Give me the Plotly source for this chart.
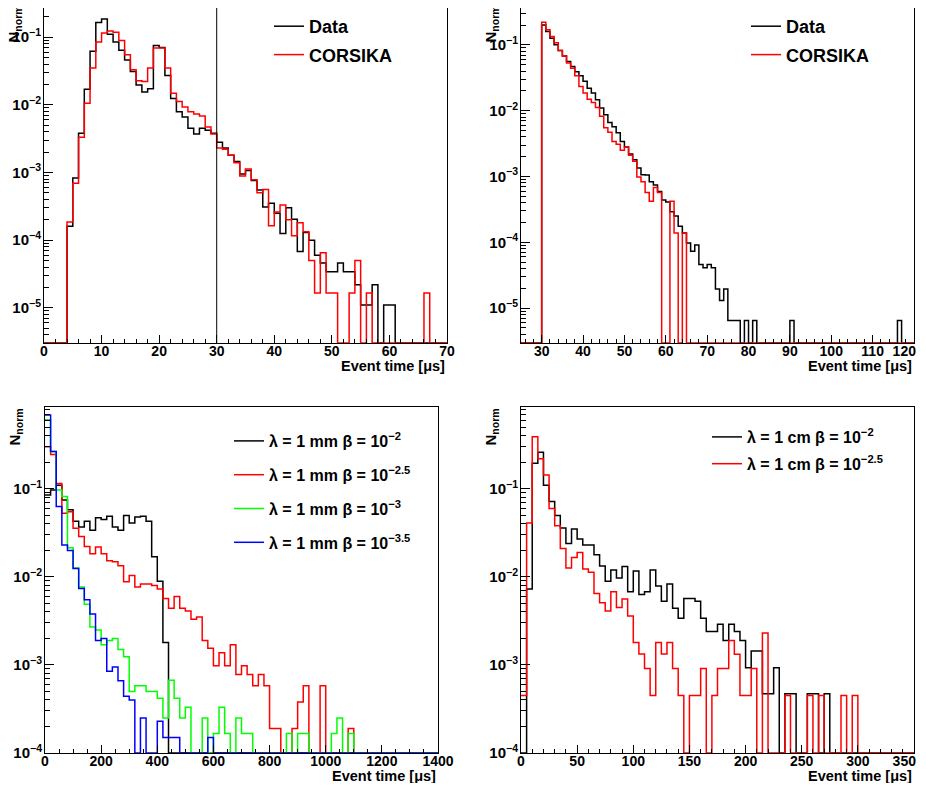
import numpy as np
import plotly.graph_objects as go

FONT = "Liberation Sans, Arial, Helvetica, sans-serif"
PAGE_MARGIN = 8          # the browser puts the figure 8 px in from the page corner
W, H = 926 - 2 * PAGE_MARGIN, 791 - 2 * PAGE_MARGIN

# ---- top left: event time, Data vs CORSIKA (1 us bins from 0) ----
P1_START, P1_WIDTH = 0, 1
P1_DATA = [0, 0, 0, 0, 1.6e-4, 8.3e-4, 3.8e-3, 0.017, 0.062, 0.165,
           0.185, 0.11, 0.085, 0.064, 0.046, 0.031, 0.0196, 0.0154, 0.0172, 0.075,
           0.070, 0.027, 0.0124, 0.0079, 0.0066, 0.0045, 0.0037, 0.0045, 0.0042, 0.0038,
           0.0028, 0.0023, 0.0018, 0.00145, 0.00095, 0.00107, 0.00076, 0.00055, 0.00031, 0.00035,
           0.00025, 0.000125, 0.0003, 0.000204, 6.8e-5, 1.3e-4, 1.0e-4, 6.0e-5, 4.6e-5, 3.4e-5,
           3.4e-5, 4.6e-5, 3.4e-5, 3.4e-5, 2.2e-5, 1.1e-5, 1.1e-5, 2.2e-5, 0, 1.1e-5,
           1.1e-5, 0, 0, 0, 0, 0, 0, 0, 0, 0]
P1_CORSIKA = [0, 0, 0, 0, 1.85e-4, 6.9e-4, 3.3e-3, 0.0105, 0.035, 0.085,
              0.115, 0.123, 0.118, 0.089, 0.055, 0.033, 0.0226, 0.022, 0.035, 0.069,
              0.069, 0.035, 0.0148, 0.0112, 0.0093, 0.0079, 0.0073, 0.0068, 0.0047, 0.0037,
              0.0023, 0.0022, 0.0018, 0.00139, 0.00089, 0.00112, 0.00078, 0.0005, 0.00056, 0.000163,
              0.00026, 0.00033, 0.0002, 0.000116, 0.00018, 0.000133, 5.0e-5, 1.66e-5, 6.5e-5, 1.66e-5,
              1.66e-5, 0, 0, 1.66e-5, 5.0e-5, 0, 1.66e-5, 0, 0, 0,
              0, 0, 0, 0, 0, 0, 1.66e-5, 0, 0, 0]
P1_CUT = 30

# ---- top right: events after the cut (1 us bins from 25) ----
P2_START, P2_WIDTH = 25, 1
P2_DATA = [0, 0, 0, 0, 0,
           0.20, 0.16, 0.126, 0.10, 0.082, 0.068, 0.056, 0.047, 0.039, 0.034,
           0.028, 0.022, 0.0185, 0.0146, 0.011, 0.0087, 0.0066, 0.0057, 0.0046, 0.0034,
           0.0028, 0.0022, 0.0018, 0.00134, 0.00106, 0.00105, 0.00083, 0.00074, 0.00059, 0.00044,
           0.00041, 0.00029, 0.00025, 0.000175, 0.000138, 9.8e-5, 7.3e-5, 9.1e-5, 4.6e-5, 4.1e-5,
           4.6e-5, 4.1e-5, 1.95e-5, 1.3e-5, 1.95e-5, 6.5e-6, 6.5e-6, 6.5e-6, 0, 6.5e-6,
           0, 6.5e-6, 0, 0, 0, 0, 0, 0, 0, 0,
           6.5e-6, 0, 0, 0, 0, 0, 0, 0, 0, 0,
           0, 0, 0, 0, 0, 0, 0, 0, 0, 0,
           0, 0, 0, 0, 0, 0, 6.5e-6, 0, 0, 0]
P2_CORSIKA = [0, 0, 0, 0, 0,
              0.22, 0.17, 0.134, 0.108, 0.082, 0.068, 0.053, 0.044, 0.034, 0.0233,
              0.0185, 0.0149, 0.0133, 0.0112, 0.0082, 0.0055, 0.0047, 0.0034, 0.0031, 0.0025,
              0.0028, 0.0021, 0.0017, 0.00098, 0.00083, 0.00057, 0.00042, 0.00068, 0.00057, 0,
              0, 0.00042, 0.000139, 0, 0.000139, 0, 0, 0, 0, 0,
              0, 0, 0, 0, 0, 0, 0, 0, 0, 0,
              0, 0, 0, 0, 0, 0, 0, 0, 0, 0,
              0, 0, 0, 0, 0, 0, 0, 0, 0, 0,
              0, 0, 0, 0, 0, 0, 0, 0, 0, 0,
              0, 0, 0, 0, 0, 0, 0, 0, 0, 0]

# ---- bottom left: lambda = 1 mm (20 us bins) ----
P3_START, P3_WIDTH = 0, 20
P3_B2 = [0.085, 0.097, 0.11, 0.075, 0.058, 0.043, 0.037, 0.043, 0.034, 0.047,
         0.045, 0.049, 0.037, 0.034, 0.050, 0.041, 0.048, 0.049, 0.043, 0.017,
         0.0089, 0.0018, 0, 0, 0, 0, 0, 0, 0, 0] + [0] * 40
P3_B25 = [0.30, 0.245, 0.115, 0.053, 0.055, 0.0357, 0.0288, 0.0221, 0.0183, 0.0218,
          0.0183, 0.0153, 0.0149, 0.0134, 0.0088, 0.0104, 0.0077, 0.0083, 0.0083, 0.0080,
          0.0073, 0.0057, 0.0044, 0.006, 0.0044, 0.0041, 0.0033, 0.0035, 0.0019, 0.00155,
          0.00098, 0.00138, 0.00098, 0.0017, 0.00078, 0.00098, 0.00078, 0.00058, 0.00078, 0.00058,
          0.00019, 0.00019, 0, 0, 0.00019, 0.00038, 0.00058, 0, 0, 0.00058,
          0, 0, 0, 0, 0.00019, 0, 0, 0, 0, 0] + [0] * 10
P3_B3 = [0.61, 0.265, 0.097, 0.082, 0.0214, 0.0126, 0.0077, 0.0049, 0.0027, 0.0025,
         0.0017, 0.0019, 0.0020, 0.0015, 0.00124, 0.0005, 0.00058, 0.00058, 0.0005, 0.0005,
         0.00042, 0.00025, 0.00067, 0.00042, 0.00025, 0.00033, 0, 0, 0.00025, 0,
         0.000166, 0.00033, 0.000166, 0, 0.00025, 0.000166, 0.000166, 0, 0, 0,
         0, 0, 0, 0.000166, 0, 0.000166, 0.000166, 0, 0, 0,
         0, 0.000166, 0.00025, 0, 0.000166, 0, 0, 0, 0, 0] + [0] * 10
P3_B35 = [0.69, 0.265, 0.063, 0.023, 0.020, 0.0125, 0.0074, 0.0055, 0.0038, 0.0019,
          0.0020, 0.00085, 0.00095, 0.00066, 0.00044, 0.0004, 0, 0.00025, 0, 0,
          0.00023, 0.00015, 0.00015, 0.00015, 0, 0, 0, 0, 0, 0.00015] + [0] * 40

# ---- bottom right: lambda = 1 cm (5 us bins) ----
P4_START, P4_WIDTH = 0, 5
P4_B2 = [0, 0.0073, 0.195, 0.26, 0.11, 0.072, 0.05, 0.036, 0.024, 0.035,
         0.027, 0.023, 0.023, 0.0178, 0.0133, 0.0089, 0.012, 0.0097, 0.0131, 0.0068,
         0.0117, 0.0063, 0.0068, 0.012, 0.0079, 0.0053, 0.0083, 0.0044, 0.0034, 0.0057,
         0.0057, 0.0053, 0.0034, 0.0024, 0.0024, 0.0029, 0.0019, 0.0029, 0.0024, 0.0019,
         0.00093, 0.00144, 0.00144, 0.00047, 0.00047, 0.00093, 0, 0.00047, 0.00047, 0,
         0, 0.00047, 0.00047, 0, 0.00047, 0, 0, 0, 0, 0] + [0] * 10
P4_B25 = [0.00045, 0.041, 0.39, 0.22, 0.144, 0.06, 0.038, 0.021, 0.0126, 0.0166,
          0.019, 0.0123, 0.0113, 0.0065, 0.0051, 0.0041, 0.0068, 0.0045, 0.0056, 0.0036,
          0.0018, 0.00133, 0.00091, 0.00045, 0.0018, 0.00133, 0.0018, 0.00091, 0.00045, 0,
          0.00045, 0.00045, 0.00091, 0, 0.00045, 0.00091, 0.00091, 0.0019, 0.00132, 0.00045,
          0.00045, 0.00091, 0, 0.0023, 0, 0, 0, 0.00045, 0, 0,
          0, 0.00045, 0, 0.00045, 0, 0, 0, 0.00045, 0, 0.00045] + [0] * 10

X_TITLE = "Event time [μs]"
Y_TITLE = "N<sub>norm</sub>"


def hist_xy(start, width, values, floor):
    # step outline of a histogram; empty bins sit on the bottom of the frame
    vals = np.asarray(values, dtype=float)
    edges = start + width * np.arange(len(vals) + 1)
    y = np.where(vals > 0, vals, floor)
    return edges, np.append(y, y[-1])


def pow_label(e):
    return "10<sup>−%d</sup>" % e


# frames in page pixels (left, top, right, bottom) and their ranges
panels = [
    dict(box=(44, 8, 447, 343), xr=[0, 70], yr=[-5.52, -0.57], xt=list(range(0, 71, 10)), minor=2,
         decades=[1, 2, 3, 4, 5], pad_last=0),
    dict(box=(521, 8, 914, 343), xr=[25, 120], yr=[-5.53, -0.44], xt=list(range(30, 121, 10)), minor=2,
         decades=[1, 2, 3, 4, 5], pad_last=5),
    dict(box=(45, 407, 438, 753), xr=[0, 1400], yr=[-4, -0.07], xt=list(range(0, 1401, 200)), minor=50,
         decades=[1, 2, 3, 4], pad_last=0),
    dict(box=(521, 407, 914, 753), xr=[0, 350], yr=[-4, -0.07], xt=list(range(0, 351, 50)), minor=10,
         decades=[1, 2, 3, 4], pad_last=5),
]

minor_vals = [k * 10.0 ** n for n in range(-7, 1) for k in range(2, 10)]

fig = go.Figure()

series = [
    (0, P1_START, P1_WIDTH, P1_DATA, "Data", "black", "legend"),
    (0, P1_START, P1_WIDTH, P1_CORSIKA, "CORSIKA", "red", "legend"),
    (1, P2_START, P2_WIDTH, P2_DATA, "Data", "black", "legend2"),
    (1, P2_START, P2_WIDTH, P2_CORSIKA, "CORSIKA", "red", "legend2"),
    (2, P3_START, P3_WIDTH, P3_B2, "λ = 1 mm β = 10<sup>−2</sup>", "black", "legend3"),
    (2, P3_START, P3_WIDTH, P3_B25, "λ = 1 mm β = 10<sup>−2.5</sup>", "red", "legend3"),
    (2, P3_START, P3_WIDTH, P3_B3, "λ = 1 mm β = 10<sup>−3</sup>", "#00ff00", "legend3"),
    (2, P3_START, P3_WIDTH, P3_B35, "λ = 1 mm β = 10<sup>−3.5</sup>", "blue", "legend3"),
    (3, P4_START, P4_WIDTH, P4_B2, "λ = 1 cm β = 10<sup>−2</sup>", "black", "legend4"),
    (3, P4_START, P4_WIDTH, P4_B25, "λ = 1 cm β = 10<sup>−2.5</sup>", "red", "legend4"),
]

for i, (p, start, width, vals, name, color, leg) in enumerate(series):
    sfx = "" if p == 0 else str(p + 1)
    x, y = hist_xy(start, width, vals, 10 ** panels[p]["yr"][0])
    fig.add_trace(go.Scatter(
        x=x, y=y, mode="lines", name=name, legend=leg, legendgroup="g%d" % i,
        line=dict(color=color, width=1.5, shape="hv"),
        xaxis="x" + sfx, yaxis="y" + sfx, hoverinfo="skip",
    ))

layout = {}
annotations = []
for i, pan in enumerate(panels):
    sfx = "" if i == 0 else str(i + 1)
    left, top, right, bottom = [v - PAGE_MARGIN for v in pan["box"]]
    xtext = [str(v) for v in pan["xt"]]
    # last label pulled in from the frame edge, as in the original
    xtext[-1] += "\u00a0" * pan["pad_last"]
    layout["xaxis" + sfx] = dict(
        domain=[left / W, right / W], range=pan["xr"], anchor="y" + sfx, automargin=False,
        showline=True, linecolor="black", linewidth=1, mirror=(i != 0),
        ticks="inside", ticklen=8, tickwidth=1, tickcolor="black",
        tickvals=pan["xt"], ticktext=xtext,
        minor=dict(ticks="inside", ticklen=4, tickwidth=1, tickcolor="black",
                   tick0=0, dtick=pan["minor"]),
        showgrid=False, zeroline=False, ticklabelstandoff=-5, ticklabeloverflow="allow",
        tickfont=dict(family=FONT, size=14, color="black", weight="bold"),
    )
    layout["yaxis" + sfx] = dict(
        domain=[1 - bottom / H, 1 - top / H], range=pan["yr"], type="log", anchor="x" + sfx,
        automargin=False,
        showline=True, linecolor="black", linewidth=1, mirror=True,
        ticks="inside", ticklen=9, tickwidth=1, tickcolor="black",
        tickvals=[10.0 ** -e for e in pan["decades"]], ticktext=[pow_label(e) for e in pan["decades"]],
        minor=dict(ticks="inside", ticklen=5, tickwidth=1, tickcolor="black", tickvals=minor_vals),
        showgrid=False, zeroline=False, ticklabelstandoff=-1, ticklabeloverflow="allow",
        tickfont=dict(family=FONT, size=15, color="black", weight="bold"),
    )
    annotations.append(dict(
        text="<b>%s</b>" % X_TITLE, xref="x%s domain" % sfx, yref="y%s domain" % sfx,
        x=1, y=0, xanchor="right", yanchor="top", yshift=-13, showarrow=False,
        font=dict(family=FONT, size=14.5, color="black"),
    ))
    annotations.append(dict(
        text="<b>%s</b>" % Y_TITLE, xref="x%s domain" % sfx, yref="y%s domain" % sfx,
        x=0, y=1, xanchor="center", yanchor="top", xshift=-30, yshift=4 if i < 2 else 0,
        textangle=-90, showarrow=False,
        font=dict(family=FONT, size=15, color="black"),
    ))

legend_common = dict(bgcolor="rgba(0,0,0,0)", borderwidth=0, xanchor="left", yanchor="top",
                     xref="paper", yref="paper", itemwidth=30, tracegroupgap=3)
# legend corners in figure pixels
legend_pos = {"legend": (261, 0, 18, 2), "legend2": (738, 0, 18, 2),
              "legend3": (221, 416, 16, 10), "legend4": (699, 412, 16, 3)}
for key, (lx, ly, fs, gap) in legend_pos.items():
    layout[key] = dict(legend_common, x=lx / W, y=1 - ly / H, tracegroupgap=gap,
                       font=dict(family=FONT, size=fs, color="black", weight="bold"))

fig.update_layout(
    width=W, height=H, margin=dict(l=0, r=0, t=0, b=0),
    paper_bgcolor="white", plot_bgcolor="white",
    font=dict(family=FONT, color="black"),
    annotations=annotations,
    **layout,
)

fig.add_shape(type="line", xref="x", yref="y domain", x0=P1_CUT, x1=P1_CUT, y0=0, y1=1,
              line=dict(color="black", width=1))

fig.write_html("out.html")
